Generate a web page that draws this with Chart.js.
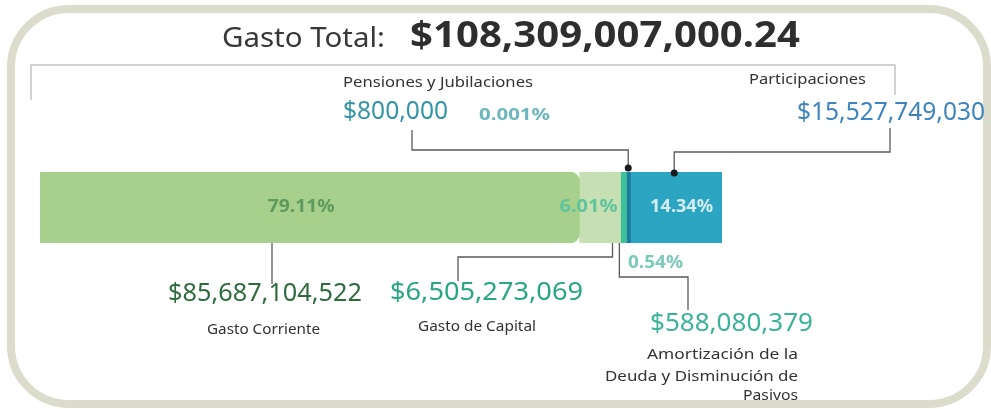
<!DOCTYPE html>
<html>
<head>
<meta charset="utf-8">
<script src="https://cdn.jsdelivr.net/npm/chart.js@4/dist/chart.umd.min.js"></script>
<style>
  html, body { margin:0; padding:0; background:#ffffff; }
  #wrap { width:991px; height:409px; position:relative; }
</style>
</head>
<body>
<div id="wrap"><canvas id="gastoChart" width="991" height="409"></canvas></div>
<script>
// data
const categories = [
    "Gasto Corriente",
    "Gasto de Capital",
    "Amortización de la Deuda y Disminución de Pasivos",
    "Pensiones y Jubilaciones",
    "Participaciones"
];
const amounts = [85687104522, 6505273069, 588080379, 800000, 15527749030];
const amountLabels = ["$85,687,104,522", "$6,505,273,069", "$588,080,379", "$800,000", "$15,527,749,030"];
const percentLabels = ["79.11%", "6.01%", "0.54%", "0.001%", "14.34%"];
const amortLines = ["Amortización de la", "Deuda y Disminución de", "Pasivos"];
const totalTitle = "Gasto Total:";
const totalLabel = "$108,309,007,000.24";

const barColors = ["#a8d08d", "#c6e0b3", "#40bf9b", "#1c7c9e", "#2ca5c3"];
const FONT = "'Noto Sans', sans-serif";

const total = amounts.reduce((a, b) => a + b, 0);

function roundRect(ctx, x, y, w, h, r){
    ctx.beginPath();
    ctx.moveTo(x + r, y);
    ctx.arcTo(x + w, y, x + w, y + h, r);
    ctx.arcTo(x + w, y + h, x, y + h, r);
    ctx.arcTo(x, y + h, x, y, r);
    ctx.arcTo(x, y, x + w, y, r);
    ctx.closePath();
}

// draws text starting at `left`, stretched to `width` pixels
function fitText(ctx, str, left, y, width, size, color, weight){
    ctx.save();
    ctx.font = (weight || "normal") + " " + size + "px " + FONT;
    ctx.fillStyle = color;
    ctx.textAlign = "left";
    ctx.textBaseline = "middle";
    const w = ctx.measureText(str).width;
    ctx.translate(left, y);
    ctx.scale(width / w, 1);
    ctx.fillText(str, 0, 0);
    ctx.restore();
}

function leader(ctx, pts){
    ctx.beginPath();
    ctx.moveTo(pts[0][0], pts[0][1]);
    for (let i = 1; i < pts.length; i++) ctx.lineTo(pts[i][0], pts[i][1]);
    ctx.stroke();
}

const framePlugin = {
    id: "frame",
    beforeDraw(chart){
        const ctx = chart.ctx;
        ctx.save();
        ctx.fillStyle = "#ffffff";
        ctx.fillRect(0, 0, chart.width, chart.height);
        ctx.strokeStyle = "#dcdccd";
        ctx.lineWidth = 8;
        roundRect(ctx, 11, 9, 976, 395, 58);
        ctx.stroke();

        // bracket under the title
        ctx.strokeStyle = "#c4c4c4";
        ctx.lineWidth = 1.5;
        leader(ctx, [[31, 100], [31, 65], [895, 65], [895, 95]]);
        ctx.restore();
    }
};

const labelPlugin = {
    id: "labels",
    afterDatasetsDraw(chart){
        const ctx = chart.ctx;
        const xs = chart.scales.x;
        const area = chart.chartArea;
        const bottom = area.bottom, mid = (area.top + area.bottom) / 2;

        // segment edges from the scale
        const edges = [xs.getPixelForValue(0)];
        let cum = 0;
        amounts.forEach(v => { cum += v; edges.push(xs.getPixelForValue(cum)); });

        ctx.save();

        // title
        fitText(ctx, totalTitle, 222, 39, 163, 27, "#383838");
        fitText(ctx, totalLabel, 410, 37, 390, 35, "#2e2e2e", "bold");

        // leader lines
        ctx.strokeStyle = "#5a5a5a";
        ctx.lineWidth = 1.3;
        leader(ctx, [[272, bottom], [272, 284]]);
        const capX = edges[2] - 8;
        leader(ctx, [[capX, bottom], [capX, 257], [458, 257], [458, 281]]);
        const amX = (edges[2] + edges[3]) / 2 - 3;
        leader(ctx, [[amX, bottom], [amX, 277], [688, 277], [688, 310]]);
        const penX = edges[3] + 4;
        leader(ctx, [[penX, 168], [penX, 150], [412, 150], [412, 130]]);
        const parX = edges[4] + 50;
        leader(ctx, [[parX, 173], [parX, 152], [890, 152], [890, 128]]);

        ctx.fillStyle = "#1a1a1a";
        [[penX, 168], [parX, 173]].forEach(p => {
            ctx.beginPath();
            ctx.arc(p[0], p[1], 3.5, 0, Math.PI * 2);
            ctx.fill();
        });

        // percentages
        const gcMid = (edges[0] + edges[1]) / 2 - 9;
        fitText(ctx, percentLabels[0], gcMid - 33, mid, 67, 17, "#5d9a5d", "bold");
        fitText(ctx, percentLabels[1], edges[2] - 61, mid, 58, 17, "#5fc39b", "bold");
        const parMid = (edges[4] + edges[5]) / 2 + 8;
        fitText(ctx, percentLabels[4], parMid - 31, mid, 63, 17, "#d4edf3", "bold");
        fitText(ctx, percentLabels[2], 628, 263, 55, 17, "#7ccab9", "bold");
        fitText(ctx, percentLabels[3], 479, 115, 71, 16, "#6cb6c0", "bold");

        // amounts
        fitText(ctx, amountLabels[0], 168, 294, 194, 26, "#2f6b3f");
        fitText(ctx, amountLabels[1], 390, 293, 193, 26, "#2aa686");
        fitText(ctx, amountLabels[2], 650, 324, 163, 26, "#3bb39a");
        fitText(ctx, amountLabels[3], 343, 112, 105, 26, "#3395a6");
        fitText(ctx, amountLabels[4], 797, 113, 188, 26, "#3e85bf");

        // category names
        fitText(ctx, categories[0], 207, 330, 113, 15, "#333333");
        fitText(ctx, categories[1], 418, 327, 118, 15, "#333333");
        fitText(ctx, amortLines[0], 798 - 151, 355, 151, 15, "#333333");
        fitText(ctx, amortLines[1], 798 - 193, 377, 193, 15, "#333333");
        fitText(ctx, amortLines[2], 798 - 55, 396, 55, 15, "#333333");
        fitText(ctx, categories[3], 343, 83, 190, 15, "#333333");
        fitText(ctx, categories[4], 749, 80, 117, 15, "#333333");

        ctx.restore();
    }
};

new Chart(
    document.getElementById("gastoChart"),
    {
        type: "bar",
        data: {
            labels: ["Gasto"],
            datasets: categories.map((name, i) => ({
                label: name,
                data: [amounts[i]],
                backgroundColor: barColors[i],
                borderWidth: 0,
                borderSkipped: false,
                borderRadius: i === 0 ? { topRight: 10, bottomRight: 10 } : (i === 4 ? { topRight: 6 } : 0),
                minBarLength: i === 3 ? 4 : (i === 2 ? 6 : 0),
                barPercentage: 1,
                categoryPercentage: 1
            }))
        },
        options: {
            indexAxis: "y",
            responsive: false,
            animation: false,
            layout: { padding: { left: 40, right: 269, top: 172, bottom: 166 } },
            plugins: {
                legend: { display: false },
                tooltip: { enabled: false }
            },
            scales: {
                x: { stacked: true, min: 0, max: total, display: false },
                y: { stacked: true, display: false }
            }
        },
        plugins: [framePlugin, labelPlugin]
    }
);
</script>
</body>
</html>
